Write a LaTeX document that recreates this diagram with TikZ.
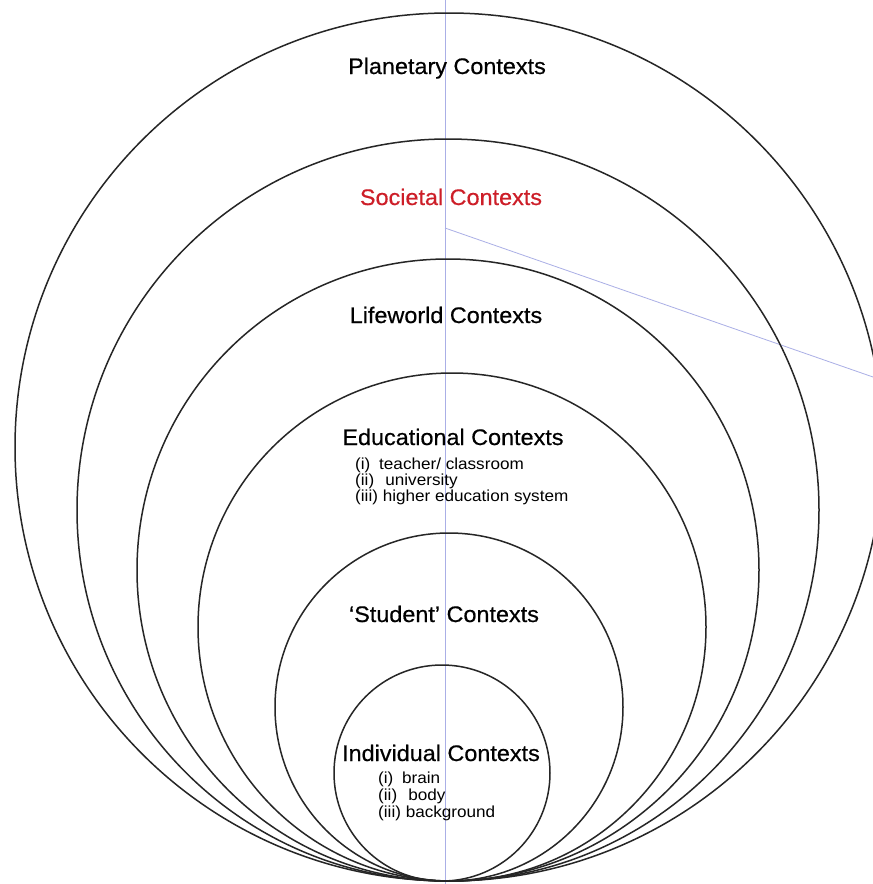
\documentclass[tikz,border=0pt]{standalone}
\usepackage{fontspec}
\setmainfont{Liberation Sans}
\newfontfamily\titlefont[FakeBold=0.5,FakeStretch=1.04,Ligatures=TeX]{Liberation Sans}
\newfontfamily\itemfont[FakeStretch=1.07,Ligatures=TeX]{Liberation Sans}
\definecolor{guideblue}{RGB}{170,175,230}
\definecolor{socred}{RGB}{205,30,40}
\begin{document}
\begin{tikzpicture}[x=1pt,y=-1pt,
  ring/.style={draw=black!85,line width=1.5pt},
  guide/.style={draw=guideblue,line width=0.8pt},
  title/.style={inner sep=0pt,anchor=base,font=\titlefont\fontsize{22.5}{26}\selectfont},
  item/.style={inner sep=0pt,anchor=base west,font=\itemfont\fontsize{16}{17}\selectfont}]
\useasboundingbox[fill=white] (0,0) rectangle (873,884);
% guide lines
\coordinate (vtop) at (445,0);
\coordinate (vbot) at (445,884);
\coordinate (dA) at (445,228);
\coordinate (dB) at (873,377);
\draw[guide] (vtop) -- (vbot);
\draw[guide] (dA) -- (dB);
% rings
\draw[ring] (449,447) circle[radius=434pt];
\draw[ring] (448,510) circle[radius=371pt];
\draw[ring] (448,570) circle[radius=311pt];
\draw[ring] (452,627) circle[radius=254pt];
\draw[ring] (449,707) circle[radius=174pt];
\draw[ring] (442,773) circle[radius=108pt];
% titles
\node[title] (planet) at (447,74) {Planetary Contexts};
\node[title,text=socred] (soc) at (451,205) {Societal Contexts};
\node[title] (life) at (446,323) {Lifeworld Contexts};
\node[title] (edu) at (453,445) {Educational Contexts};
\node[title] (stud) at (444,622) {‘Student’ Contexts};
\node[title] (ind) at (441,761) {Individual Contexts};
% educational items
\node[item] (e1) at (355,469) {(i)\hspace{0.55em}teacher/ classroom};
\node[item] (e2) at (355,485) {(ii)\hspace{0.7em}university};
\node[item] (e3) at (355,501) {(iii) higher education system};
% individual items
\node[item] (i1) at (378,783) {(i)\hspace{0.55em}brain};
\node[item] (i2) at (378,800) {(ii)\hspace{0.7em}body};
\node[item] (i3) at (378,817) {(iii) background};
\end{tikzpicture}
\end{document}
